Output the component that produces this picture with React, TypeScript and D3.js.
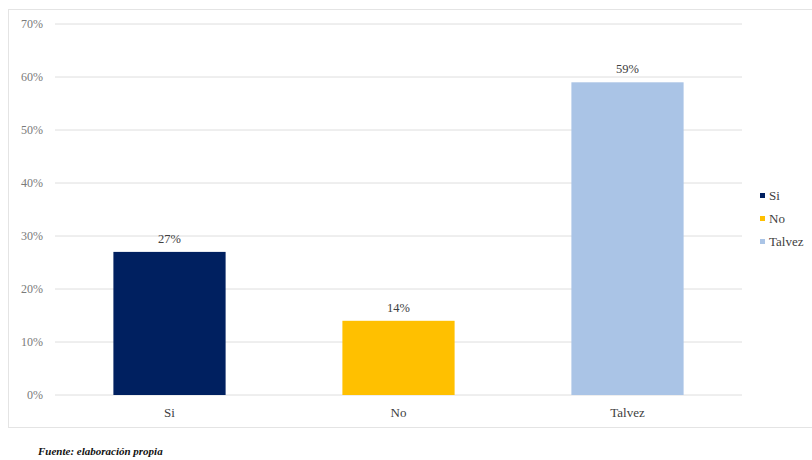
import React from "react";
import * as d3 from "d3";

const categories = ["Si", "No", "Talvez"];
const values = [27, 14, 59];
const colors = ["#002060", "#FFC000", "#AAC4E6"];
const yTicks = [0, 10, 20, 30, 40, 50, 60, 70];

export default function App() {
  const W = 812, H = 460;
  const x0 = 55, x1 = 742, yTop = 24, yBot = 395;
  const x = d3.scaleBand().domain(categories).range([x0, x1]).paddingInner(0.51).paddingOuter(0.255);
  const y = d3.scaleLinear().domain([0, 70]).range([yBot, yTop]);
  const serif = "Liberation Serif, Times New Roman, serif";
  return (
    <svg width={W} height={H} style={{ position: "absolute", left: 0, top: 0, background: "#fff" }}>
      <rect x={0} y={0} width={W} height={H} fill="#fff" />
      <rect x={8.5} y={9.5} width={W + 10} height={418} fill="none" stroke="#e4e4e4" strokeWidth={1} />
      {yTicks.map((t) => (
        <g key={t}>
          <line x1={x0} x2={x1} y1={y(t)} y2={y(t)} stroke="#dedede" strokeWidth={1} />
          <text x={43} y={y(t) + 4} textAnchor="end" style={{ fontFamily: serif }} fontSize={12} fill="#7a7a7a">
            {t}%
          </text>
        </g>
      ))}
      {categories.map((c, i) => (
        <g key={c}>
          <rect x={x(c)} y={y(values[i])} width={x.bandwidth()} height={y(0) - y(values[i])} fill={colors[i]} />
          <text x={x(c)! + x.bandwidth() / 2} y={y(values[i]) - 9} textAnchor="middle" style={{ fontFamily: serif }} fontSize={12.5} fill="#404040">
            {values[i]}%
          </text>
          <text x={x(c)! + x.bandwidth() / 2} y={417} textAnchor="middle" style={{ fontFamily: serif }} fontSize={13} fill="#404040">
            {c}
          </text>
        </g>
      ))}
      {categories.map((c, i) => (
        <g key={"l" + c}>
          <rect x={760} y={193 + i * 23} width={5} height={5} fill={colors[i]} />
          <text x={769} y={200 + i * 23} style={{ fontFamily: serif }} fontSize={13} fill="#404040">
            {c}
          </text>
        </g>
      ))}
      <text x={38} y={455} style={{ fontFamily: serif }} fontSize={11} fontWeight="bold" fontStyle="italic" fill="#111">
        Fuente: elaboración propia
      </text>
    </svg>
  );
}
